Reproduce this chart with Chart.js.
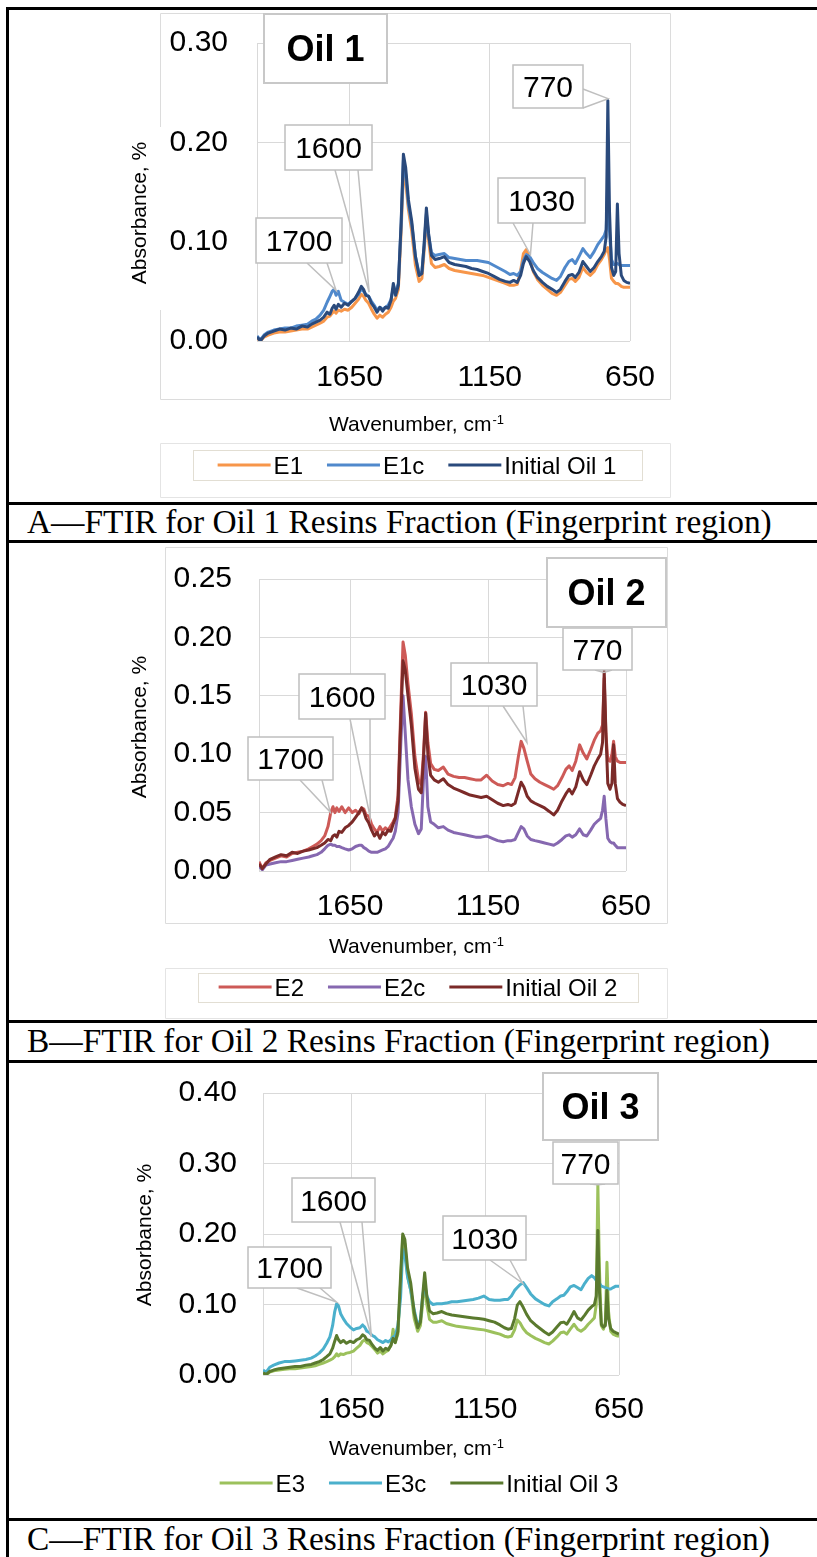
<!DOCTYPE html>
<html><head><meta charset="utf-8">
<script src="https://cdn.jsdelivr.net/npm/chart.js@4.4.0/dist/chart.umd.min.js"></script>
<style>
html,body{margin:0;padding:0;background:#fff;}
body{width:817px;height:1557px;position:relative;overflow:hidden;}
canvas{position:absolute;left:0;}
.hl{position:absolute;left:6px;width:811px;height:3px;background:#000;z-index:2;}
.vl{position:absolute;left:6px;top:7px;width:3px;height:1550px;background:#000;z-index:2;}
.cap{position:absolute;left:27px;font-family:"Liberation Serif","Times New Roman",serif;font-size:33.4px;line-height:38px;color:#000;white-space:nowrap;z-index:3;}
</style></head><body>
<canvas id="cA" width="817" height="490" style="top:10px"></canvas>
<canvas id="cB" width="817" height="475" style="top:545px"></canvas>
<canvas id="cC" width="817" height="454" style="top:1064px"></canvas>
<div class="hl" style="top:7px"></div>
<div class="hl" style="top:502px"></div>
<div class="hl" style="top:540px"></div>
<div class="hl" style="top:1020px"></div>
<div class="hl" style="top:1060px"></div>
<div class="hl" style="top:1518px"></div>
<div class="vl"></div>
<div class="cap" style="top:503px">A—FTIR for Oil 1 Resins Fraction (Fingerprint region)</div>
<div class="cap" style="top:1022px">B—FTIR for Oil 2 Resins Fraction (Fingerprint region)</div>
<div class="cap" style="top:1520px">C—FTIR for Oil 3 Resins Fraction (Fingerprint region)</div>
<script>
// ---------------- DATA ----------------
const wavenumbers = [
 1980,1968,1955,1940,1920,1900,1880,1860,1840,1820,
 1800,1785,1770,1755,1742,1730,1720,1712,1705,1698,
 1690,1680,1668,1655,1642,1630,1618,1608,1600,1592,
 1582,1572,1562,1552,1542,1532,1522,1512,1502,1494,
 1486,1476,1466,1458,1450,1440,1428,1415,1402,1392,
 1384,1376,1368,1358,1345,1330,1312,1295,1275,1255,
 1235,1215,1195,1175,1155,1135,1115,1095,1078,1065,
 1052,1040,1030,1020,1008,995,980,962,945,928,
 912,898,882,868,856,845,832,818,805,792,
 778,765,752,742,735,729,723,716,708,701,
 695,689,681,672,662,650];

const e1 = [
 .003,.000,.004,.006,.008,.009,.009,.010,.011,.012,
 .012,.014,.016,.018,.020,.024,.025,.028,.030,.028,
 .031,.030,.032,.031,.034,.038,.042,.047,.045,.041,
 .038,.032,.027,.023,.026,.024,.027,.029,.034,.040,
 .043,.052,.110,.170,.160,.132,.110,.076,.060,.063,
 .091,.124,.101,.078,.074,.075,.077,.073,.071,.070,
 .069,.068,.067,.066,.064,.062,.060,.058,.056,.056,
 .057,.071,.088,.092,.083,.070,.062,.056,.052,.048,
 .046,.049,.056,.062,.063,.060,.064,.074,.069,.066,
 .070,.077,.082,.087,.092,.094,.082,.063,.060,.058,
 .058,.057,.055,.054,.054,.054];
const e1c = [
 .005,.001,.006,.009,.011,.012,.013,.013,.015,.016,
 .017,.020,.022,.026,.031,.039,.045,.050,.052,.046,
 .050,.041,.039,.037,.040,.043,.047,.053,.050,.047,
 .045,.040,.036,.031,.034,.032,.034,.036,.042,.053,
 .050,.058,.117,.182,.168,.137,.117,.085,.068,.070,
 .096,.128,.106,.089,.086,.087,.088,.084,.083,.082,
 .081,.081,.081,.080,.079,.076,.073,.070,.067,.068,
 .066,.070,.081,.087,.085,.079,.073,.069,.066,.063,
 .061,.065,.074,.080,.082,.078,.085,.093,.088,.084,
 .090,.097,.102,.106,.112,.160,.110,.082,.077,.077,
 .078,.077,.076,.076,.076,.076];
const initialOil1 = [
 .004,.000,.005,.008,.010,.012,.011,.013,.012,.015,
 .014,.017,.019,.021,.024,.029,.027,.033,.036,.032,
 .037,.034,.038,.036,.040,.043,.049,.055,.052,.046,
 .045,.038,.034,.029,.034,.030,.034,.033,.041,.058,
 .046,.056,.120,.188,.175,.142,.120,.085,.066,.068,
 .098,.134,.108,.086,.082,.083,.085,.079,.077,.076,
 .075,.073,.072,.070,.068,.065,.062,.060,.059,.061,
 .059,.066,.078,.085,.080,.071,.064,.059,.055,.052,
 .049,.052,.060,.066,.067,.064,.069,.080,.075,.070,
 .074,.080,.085,.090,.105,.242,.130,.074,.066,.070,
 .138,.088,.066,.061,.059,.058];

const e2 = [
 .008,.002,.007,.009,.011,.013,.012,.015,.016,.017,
 .019,.021,.023,.026,.030,.038,.050,.055,.050,.054,
 .051,.055,.050,.054,.050,.052,.049,.054,.053,.048,
 .047,.040,.036,.033,.038,.034,.037,.035,.039,.042,
 .046,.065,.140,.196,.185,.160,.135,.098,.078,.074,
 .100,.136,.110,.092,.087,.086,.089,.083,.081,.080,
 .080,.079,.078,.078,.082,.077,.074,.073,.075,.074,
 .080,.098,.111,.105,.094,.083,.079,.076,.074,.072,
 .070,.073,.080,.087,.090,.086,.094,.108,.101,.096,
 .104,.112,.118,.120,.125,.165,.118,.095,.094,.100,
 .111,.098,.094,.093,.093,.093];
const e2c = [
 .004,.001,.005,.006,.007,.008,.008,.009,.010,.011,
 .012,.013,.014,.016,.019,.022,.023,.022,.022,.021,
 .021,.020,.019,.018,.019,.021,.022,.022,.020,.019,
 .017,.016,.016,.016,.017,.018,.019,.021,.025,.028,
 .034,.050,.110,.150,.118,.078,.055,.040,.032,.036,
 .078,.098,.055,.042,.040,.037,.038,.035,.033,.032,
 .031,.030,.029,.029,.030,.028,.026,.025,.026,.026,
 .027,.033,.038,.036,.030,.027,.026,.025,.024,.023,
 .022,.024,.027,.030,.031,.029,.031,.036,.031,.030,
 .035,.040,.043,.045,.052,.064,.045,.028,.025,.024,
 .024,.022,.020,.020,.020,.020];
const initialOil2 = [
 .006,.002,.006,.010,.012,.014,.013,.016,.015,.017,
 .018,.019,.020,.022,.024,.027,.026,.030,.031,.029,
 .034,.033,.037,.039,.042,.046,.050,.054,.051,.045,
 .041,.035,.030,.033,.028,.033,.031,.035,.034,.040,
 .045,.060,.130,.180,.172,.150,.125,.088,.070,.067,
 .095,.135,.100,.082,.078,.076,.079,.074,.071,.069,
 .067,.065,.064,.063,.064,.061,.058,.056,.057,.056,
 .058,.068,.076,.072,.064,.060,.058,.056,.054,.051,
 .048,.052,.060,.066,.070,.066,.072,.085,.078,.074,
 .082,.090,.096,.100,.110,.171,.120,.075,.070,.075,
 .108,.075,.062,.059,.057,.056];

const e3 = [
 .002,.000,.004,.006,.007,.008,.009,.009,.010,.011,
 .012,.013,.015,.017,.019,.021,.023,.026,.030,.027,
 .030,.029,.031,.032,.034,.038,.042,.048,.050,.046,
 .044,.040,.036,.031,.034,.030,.033,.035,.042,.065,
 .046,.058,.130,.195,.186,.140,.120,.080,.062,.070,
 .100,.135,.100,.079,.075,.075,.077,.073,.071,.069,
 .068,.067,.066,.065,.064,.062,.060,.058,.055,.054,
 .055,.064,.078,.074,.066,.060,.056,.052,.049,.046,
 .044,.048,.054,.060,.061,.058,.065,.072,.065,.062,
 .066,.072,.077,.081,.100,.270,.150,.070,.065,.075,
 .160,.090,.062,.058,.056,.055];
const e3c = [
 .007,.004,.011,.014,.017,.019,.019,.020,.021,.022,
 .024,.027,.031,.037,.045,.054,.070,.090,.101,.098,
 .087,.080,.073,.068,.064,.066,.067,.071,.068,.062,
 .060,.056,.054,.050,.048,.046,.049,.047,.050,.054,
 .056,.070,.110,.178,.170,.140,.120,.092,.070,.078,
 .110,.130,.112,.104,.100,.101,.101,.102,.104,.104,
 .105,.106,.107,.109,.112,.107,.106,.106,.107,.107,
 .112,.120,.124,.128,.131,.124,.115,.108,.104,.100,
 .098,.104,.108,.112,.113,.118,.125,.127,.124,.121,
 .130,.137,.141,.138,.134,.138,.130,.126,.125,.124,
 .123,.122,.122,.124,.126,.126];
const initialOil3 = [
 .003,.001,.005,.007,.009,.010,.011,.012,.012,.014,
 .015,.017,.019,.022,.026,.030,.038,.048,.056,.050,
 .046,.049,.045,.048,.046,.050,.052,.057,.055,.050,
 .049,.043,.038,.035,.039,.034,.038,.036,.042,.052,
 .046,.062,.140,.200,.192,.152,.130,.088,.067,.075,
 .110,.145,.112,.091,.087,.088,.090,.087,.085,.084,
 .083,.082,.081,.080,.079,.077,.075,.071,.067,.065,
 .066,.080,.099,.104,.096,.086,.077,.071,.066,.061,
 .057,.061,.068,.074,.075,.072,.080,.090,.081,.078,
 .085,.092,.097,.100,.112,.205,.118,.072,.068,.070,
 .120,.080,.066,.062,.060,.058];

const xTickValues = [1650, 1150, 650];
const yTicksOil1 = [0, 0.10, 0.20, 0.30];
const yTicksOil2 = [0, 0.05, 0.10, 0.15, 0.20, 0.25];
const yTicksOil3 = [0, 0.10, 0.20, 0.30, 0.40];
const calloutLabels = ['1700', '1600', '1030', '770'];

// ---------------- RENDERING ----------------
const FONT = '"Liberation Sans", Arial, sans-serif';

const decoPlugin = {
  id: 'deco',
  beforeDraw(chart, args, o) {
    const c = chart.ctx; c.save();
    c.lineWidth = 1;
    (o.frames || []).forEach(f => {
      const [x, y, w, h] = f.rect;
      c.strokeStyle = f.color;
      c.beginPath();
      c.moveTo(x + .5, y + .5); c.lineTo(x + w + .5, y + .5);
      c.lineTo(x + w + .5, y + h + .5); c.lineTo(x + .5, y + h + .5);
      if (f.gap) { c.lineTo(x + .5, f.gap[1]); c.moveTo(x + .5, f.gap[0]); c.lineTo(x + .5, y + .5); }
      else c.closePath();
      c.stroke();
    });
    c.restore();
  },
  afterDraw(chart, args, o) {
    const c = chart.ctx, xs = chart.scales.x, ys = chart.scales.y;
    // y title
    c.save();
    c.fillStyle = '#000'; c.font = '21px ' + FONT; c.textAlign = 'center'; c.textBaseline = 'alphabetic';
    c.translate(o.yTitle.x, o.yTitle.y); c.rotate(-Math.PI / 2);
    c.fillText('Absorbance, %', 0, 7.5);
    c.restore();
    // x title
    c.save();
    c.fillStyle = '#000'; c.textAlign = 'left'; c.textBaseline = 'alphabetic';
    const main = 'Wavenumber, cm', sup = '-1';
    c.font = '21px ' + FONT; const w1 = c.measureText(main).width;
    c.font = '13px ' + FONT; const w2 = c.measureText(sup).width;
    const sx = o.xTitle.x - (w1 + w2) / 2;
    c.font = '21px ' + FONT; c.fillText(main, sx, o.xTitle.y + 7.5);
    c.font = '13px ' + FONT; c.fillText(sup, sx + w1 + 1, o.xTitle.y + 1);
    c.restore();
    // legend
    c.save();
    if (o.legendFrame) {
      c.strokeStyle = '#e2ded3'; c.lineWidth = 1;
      const [x, y, w, h] = o.legendFrame; c.strokeRect(x + .5, y + .5, w, h);
    }
    c.font = '24px ' + FONT; c.textBaseline = 'alphabetic'; c.textAlign = 'left';
    const ds = chart.data.datasets;
    const tws = ds.map(d => c.measureText(d.label).width);
    const total = ds.reduce((s, d, i) => s + 56 + tws[i], 0) + 24 * (ds.length - 1);
    let lx = o.legend.cx - total / 2;
    ds.forEach((d, i) => {
      c.strokeStyle = d.borderColor; c.lineWidth = 3; c.lineCap = 'butt';
      c.beginPath(); c.moveTo(lx, o.legend.y); c.lineTo(lx + 53, o.legend.y); c.stroke();
      c.fillStyle = '#000'; c.fillText(d.label, lx + 56, o.legend.y + 8.6);
      lx += 56 + tws[i] + 24;
    });
    c.restore();
    // callouts
    c.save();
    o.callouts.forEach(k => {
      const tx = xs.getPixelForValue(k.tip[0]), ty = ys.getPixelForValue(k.tip[1]);
      c.strokeStyle = '#bfbfbf'; c.lineWidth = 1.5;
      c.beginPath(); c.moveTo(k.base[0][0], k.base[0][1]); c.lineTo(tx, ty); c.lineTo(k.base[1][0], k.base[1][1]); c.stroke();
      const [bx, by, bw, bh] = k.box;
      c.fillStyle = '#fff'; c.fillRect(bx, by, bw, bh); c.strokeRect(bx, by, bw, bh);
      c.fillStyle = '#000'; c.font = '30px ' + FONT; c.textAlign = 'center'; c.textBaseline = 'alphabetic';
      c.fillText(k.text, bx + bw / 2, by + bh / 2 + 10.7);
    });
    // oil label
    const [ox, oy, ow, oh] = o.oil.box;
    c.fillStyle = '#fff'; c.fillRect(ox, oy, ow, oh);
    c.strokeStyle = '#c8c8c8'; c.lineWidth = 2; c.strokeRect(ox, oy, ow, oh);
    c.fillStyle = '#000'; c.font = 'bold 36px ' + FONT; c.textAlign = 'center';
    c.fillText(o.oil.text, ox + ow / 2, oy + oh / 2 + 12.9);
    c.restore();
  }
};

function makeChart(id, cfg) {
  return new Chart(document.getElementById(id), {
    type: 'scatter',
    data: {
      datasets: cfg.series.map((s, i) => ({
        label: s.name,
        data: wavenumbers.map((x, j) => ({ x: x, y: s.values[j] })),
        borderColor: s.color, backgroundColor: s.color,
        borderWidth: 3, pointRadius: 0, pointHoverRadius: 0,
        showLine: true, tension: 0, borderJoinStyle: 'round',
        order: cfg.series.length - 1 - i
      }))
    },
    options: {
      responsive: false, animation: false, events: [],
      layout: { padding: cfg.pad },
      plugins: { legend: { display: false }, tooltip: { enabled: false }, deco: cfg.deco },
      scales: {
        x: {
          type: 'linear', reverse: true, min: 650, max: 1980,
          afterBuildTicks: sc => { sc.ticks = xTickValues.map(v => ({ value: v })); },
          afterFit: sc => { sc.height = 70; sc.paddingLeft = 0; sc.paddingRight = 0; sc.paddingTop = 0; sc.paddingBottom = 0; },
          grid: { color: '#d9d9d9', drawTicks: false, lineWidth: 1 },
          border: { display: false },
          ticks: { font: { family: FONT, size: 30 }, color: '#000', padding: cfg.xPad,
                   maxRotation: 0, autoSkip: false, callback: v => String(v) }
        },
        y: {
          min: 0, max: cfg.yTicks[cfg.yTicks.length - 1],
          afterBuildTicks: sc => { sc.ticks = cfg.yTicks.map(v => ({ value: v })); },
          afterFit: sc => { sc.width = cfg.plotLeft; sc.paddingTop = 0; sc.paddingBottom = 0; sc.paddingLeft = 0; sc.paddingRight = 0; },
          grid: { color: '#d9d9d9', drawTicks: false, lineWidth: 1 },
          border: { display: true, color: '#d9d9d9', width: 1 },
          ticks: { font: { family: FONT, size: 30 }, color: '#000', padding: cfg.yPad,
                   callback: v => Number(v).toFixed(2) }
        }
      }
    },
    plugins: [decoPlugin]
  });
}

makeChart('cA', {
  series: [
    { name: 'E1', values: e1, color: '#F7964A' },
    { name: 'E1c', values: e1c, color: '#5089CC' },
    { name: 'Initial Oil 1', values: initialOil1, color: '#2A4A7C' }
  ],
  yTicks: yTicksOil1, plotLeft: 257, yPad: 29, xPad: 19,
  pad: { left: 0, top: 33, right: 187, bottom: 89 },
  deco: {
    frames: [{ rect: [160, 3, 510, 386], color: '#dcdcdc', gap: [117, 300] },
             { rect: [160, 433, 510, 54], color: '#e4e4e4' }],
    legendFrame: [193, 440, 449, 30],
    legend: { cx: 417, y: 455 },
    yTitle: { x: 138, y: 203 },
    xTitle: { x: 416, y: 413 },
    oil: { text: 'Oil 1', box: [264, 4, 123, 69] },
    callouts: [
      { text: calloutLabels[0], box: [256, 208, 86, 45], base: [[307, 253], [327, 253]], tip: [1698, 0.051] },
      { text: calloutLabels[1], box: [285, 115, 87, 45], base: [[335, 160], [358, 160]], tip: [1580, 0.049] },
      { text: calloutLabels[2], box: [498, 168, 87, 45], base: [[513, 213], [533, 213]], tip: [1005, 0.087] },
      { text: calloutLabels[3], box: [513, 55, 70, 43], base: [[583, 79], [583, 98]], tip: [728, 0.244] }
    ]
  }
});

makeChart('cB', {
  series: [
    { name: 'E2', values: e2, color: '#CD5A57' },
    { name: 'E2c', values: e2c, color: '#8668B0' },
    { name: 'Initial Oil 2', values: initialOil2, color: '#7B2A28' }
  ],
  yTicks: yTicksOil2, plotLeft: 259, yPad: 27, xPad: 18,
  pad: { left: 0, top: 34, right: 191, bottom: 79 },
  deco: {
    frames: [{ rect: [165, 2, 502, 376], color: '#dcdcdc' },
             { rect: [165, 423, 502, 50], color: '#e4e4e4' }],
    legendFrame: [198, 428, 440, 29],
    legend: { cx: 418, y: 442 },
    yTitle: { x: 138, y: 182 },
    xTitle: { x: 416, y: 400 },
    oil: { text: 'Oil 2', box: [547, 13, 119, 69] },
    callouts: [
      { text: calloutLabels[0], box: [248, 192, 85, 43], base: [[300, 235], [322, 235]], tip: [1722, 0.0505] },
      { text: calloutLabels[1], box: [299, 129, 86, 45], base: [[350, 174], [370, 174]], tip: [1577, 0.046] },
      { text: calloutLabels[2], box: [451, 118, 86, 43], base: [[503, 161], [523, 161]], tip: [1009, 0.110] },
      { text: calloutLabels[3], box: [563, 83, 69, 42], base: [[595, 125], [612, 125]], tip: [730, 0.170] }
    ]
  }
});

makeChart('cC', {
  series: [
    { name: 'E3', values: e3, color: '#9CC15C' },
    { name: 'E3c', values: e3c, color: '#4BB0CC' },
    { name: 'Initial Oil 3', values: initialOil3, color: '#5A7A2E' }
  ],
  yTicks: yTicksOil3, plotLeft: 263, yPad: 26, xPad: 17,
  pad: { left: 0, top: 29, right: 198, bottom: 73 },
  deco: {
    frames: [],
    legendFrame: null,
    legend: { cx: 419, y: 419 },
    yTitle: { x: 143, y: 171 },
    xTitle: { x: 416, y: 383 },
    oil: { text: 'Oil 3', box: [543, 9, 115, 67] },
    callouts: [
      { text: calloutLabels[0], box: [248, 183, 83, 41], base: [[297, 224], [320, 224]], tip: [1706, 0.1035] },
      { text: calloutLabels[1], box: [292, 114, 83, 44], base: [[340, 158], [362, 158]], tip: [1575, 0.054] },
      { text: calloutLabels[2], box: [443, 152, 83, 44], base: [[490, 196], [510, 196]], tip: [1010, 0.130] },
      { text: calloutLabels[3], box: [553, 78, 65, 42], base: [[590, 120], [605, 120]], tip: [729, 0.270] }
    ]
  }
});
</script>
</body></html>
